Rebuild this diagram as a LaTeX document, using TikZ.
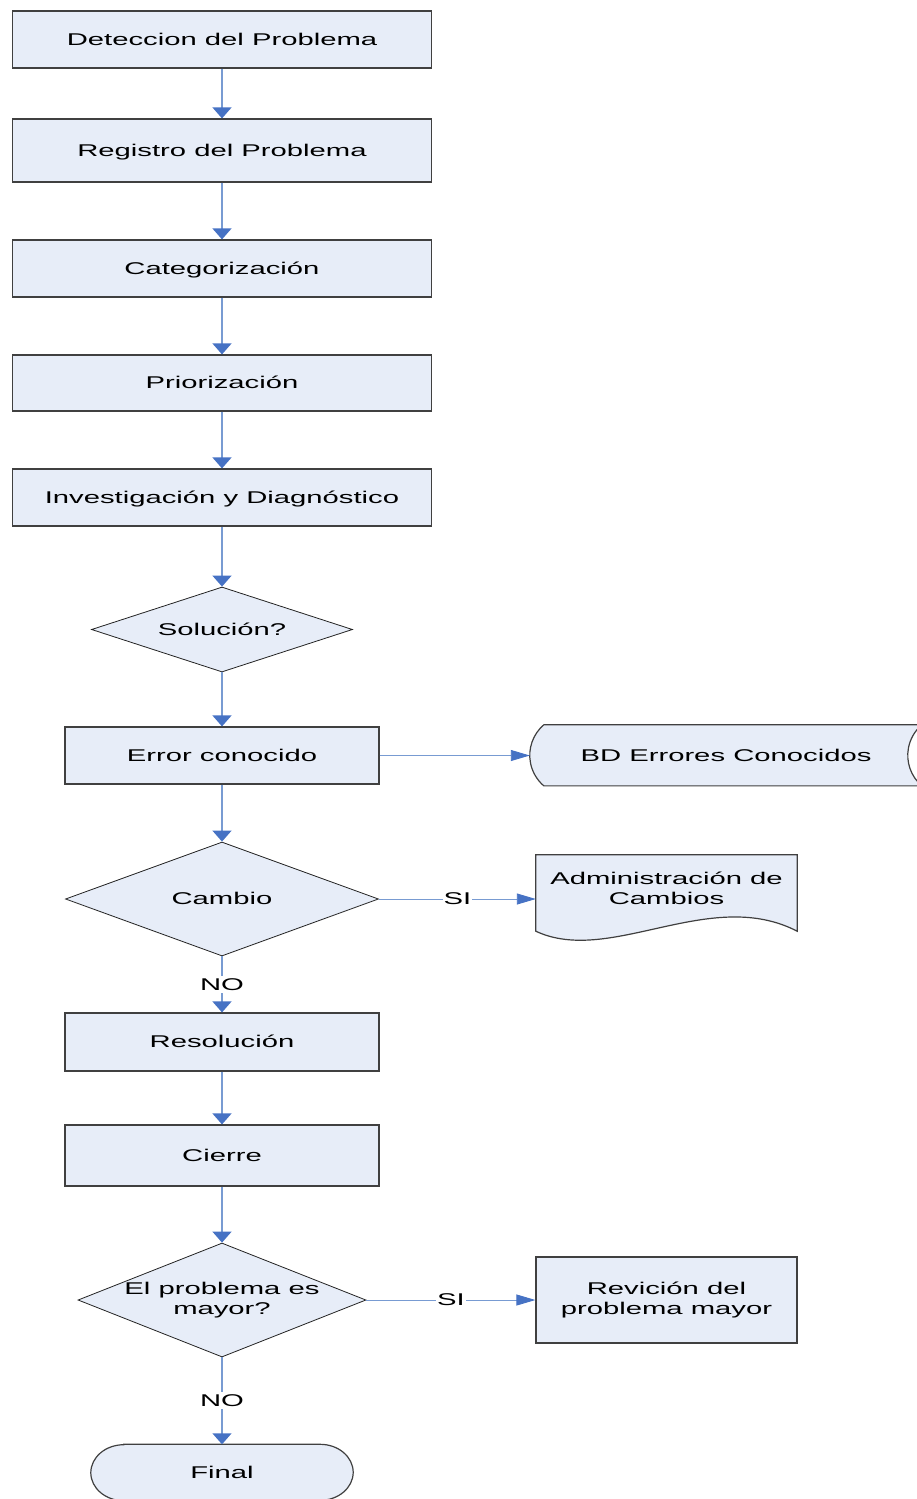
\documentclass[tikz,border=0pt]{standalone}
\usepackage{fontspec}
\setmainfont{Liberation Sans}[FakeStretch=1.72]
\usetikzlibrary{shapes.geometric,arrows.meta,backgrounds}
\definecolor{shapefill}{RGB}{231,237,248}
\definecolor{edgegray}{RGB}{64,64,64}
\definecolor{edgedark}{RGB}{35,35,35}
\definecolor{linkblue}{RGB}{120,155,210}
\definecolor{tipblue}{RGB}{70,114,196}
\begin{document}
\begin{tikzpicture}[x=1pt,y=-1pt,
  every node/.style={font=\fontsize{17}{20}\selectfont},
  oneline/.style={text height=13.2pt,text depth=2pt},
  procbox/.style={rectangle,draw=edgegray,fill=shapefill,line width=1.2pt,inner sep=0pt},
  wideproc/.style={procbox,oneline,minimum width=419pt},
  midproc/.style={procbox,oneline,minimum width=314pt},
  decision/.style={diamond,draw=edgedark,fill=shapefill,line width=0.8pt,inner sep=0pt},
  frame/.style={rectangle,inner sep=0pt},
  outline/.style={draw=edgegray,fill=shapefill,line width=1.2pt},
  flow/.style={draw=linkblue,line width=1.4pt,-{Triangle[width=19pt,length=11pt,color=tipblue]}},
  flowh/.style={draw=linkblue,line width=0.9pt,-{Triangle[width=11pt,length=19pt,color=tipblue]}},
  tag/.style={oneline,fill=white,inner sep=1pt}
]
\useasboundingbox (0,0) rectangle (916,1499);

% main column of process steps
\node[wideproc,minimum height=57pt] (det) at (222,39.5) {Deteccion del Problema};
\node[wideproc,minimum height=63pt] (reg) at (222,150.5) {Registro del Problema};
\node[wideproc,minimum height=57pt] (cat) at (222,268.5) {Categorización};
\node[wideproc,minimum height=56pt] (pri) at (222,383) {Priorización};
\node[wideproc,minimum height=57pt] (inv) at (222,497.5) {Investigación y Diagnóstico};

\node[decision,minimum width=261pt,minimum height=85pt,label={[oneline]center:Solución?}] (sol) at (222,629.5) {};

\node[midproc,minimum height=57pt] (err) at (222,755.5) {Error conocido};

\node[decision,minimum width=313pt,minimum height=114pt,label={[oneline]center:Cambio}] (cam) at (222,899) {};

\node[midproc,minimum height=58pt] (res) at (222,1042) {Resolución};
\node[midproc,minimum height=61pt] (cie) at (222,1155.5) {Cierre};

\node[decision,minimum width=288pt,minimum height=114pt,label={[align=center]center:El problema es\\mayor?}] (may) at (222,1300) {};

\node[procbox,minimum width=261pt,minimum height=86pt,align=center] (rev) at (666.5,1300) {Revición del\\problema mayor};

% stored data, document and terminator outlines
\node[frame,oneline,minimum width=392pt,minimum height=61pt] (bd) at (726,755.5) {BD Errores Conocidos};
\node[frame,minimum width=261pt,minimum height=76pt] (adm) at (666.5,893) {};
\node[align=center] (admtxt) at (666.5,888) {Administración de\\Cambios};
\node[frame,oneline,minimum width=262pt,minimum height=56pt] (fin) at (222,1472.5) {Final};

\begin{scope}[on background layer]
  \path[outline] ([xshift=14pt]bd.north west)
    arc[start angle=130.6,end angle=229.4,radius=40.2pt]
    -- ++(378,0)
    arc[start angle=229.4,end angle=130.6,radius=40.2pt]
    -- cycle;
  \path[outline] (adm.north west) -- (adm.north east) -- (adm.south east)
    .. controls (710,886) and (610,966) .. (adm.south west) -- cycle;
  \path[outline] ([xshift=33pt]fin.north west) -- ([xshift=-33pt]fin.north east)
    arc[start angle=90,end angle=-90,x radius=33pt,y radius=28pt]
    -- ([xshift=33pt]fin.south west)
    arc[start angle=270,end angle=90,x radius=33pt,y radius=28pt]
    -- cycle;
\end{scope}

% connectors
\draw[flow] (det) -- (reg);
\draw[flow] (reg) -- (cat);
\draw[flow] (cat) -- (pri);
\draw[flow] (pri) -- (inv);
\draw[flow] (inv) -- (sol);
\draw[flow] (sol) -- (err);
\draw[flowh] (err) -- (bd);
\draw[flow] (err) -- (cam);
\draw[flowh] (cam.east) -- node[tag] {SI} (cam.east -| adm.west);
\draw[flow] (cam) -- node[tag] {NO} (res);
\draw[flow] (res) -- (cie);
\draw[flow] (cie) -- (may);
\draw[flowh] (may) -- node[tag] {SI} (rev);
\draw[flow] (may) -- node[tag] {NO} (fin);
\end{tikzpicture}
\end{document}
